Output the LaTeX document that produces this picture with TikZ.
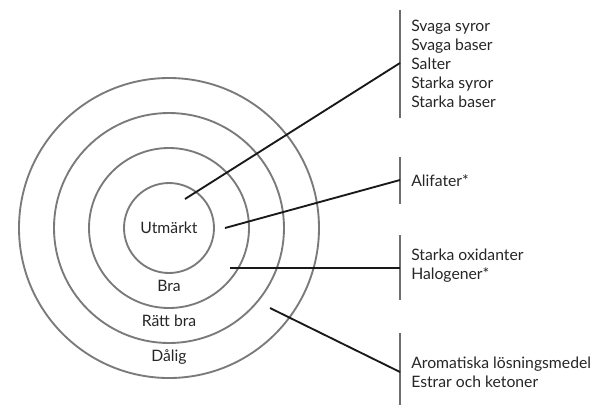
\documentclass[tikz,border=0pt]{standalone}
\usepackage{fontspec}
\setmainfont{Lato}
\usetikzlibrary{positioning}
\definecolor{ringgray}{HTML}{7A7A7A}
\definecolor{bargray}{HTML}{6E6E6E}
\tikzset{
  ringline/.style={draw=ringgray, line width=1.4pt},
  barline/.style={draw=bargray, line width=1.7pt},
  pointerline/.style={draw=black!90, line width=1.4pt},
  ringlabel/.style={font=\fontsize{11.8}{13}\selectfont, text=black!85, inner sep=0pt},
  listlabel/.style={font=\fontsize{11.8}{14.25}\selectfont, text=black!85, align=left,
    anchor=west, inner sep=0pt},
}
\begin{document}
\begin{tikzpicture}[x=0.75pt,y=-0.75pt]
  \useasboundingbox (0,0) rectangle (597,405);
  % ringar
  \coordinate (mid) at (169,228);
  \foreach \r in {45,80,115,150} {
    \draw[ringline] (mid) circle[radius=\r];
  }
  \node[ringlabel] (utm) at (169,228) {Utmärkt};
  \node[ringlabel] (bra) at (169,286) {Bra};
  \node[ringlabel] (ratt) at (169,321) {Rätt bra};
  \node[ringlabel] (dal) at (169,357) {Dålig};
  % staplar
  \foreach \n/\top/\bot in {1/10/118,2/157/204,3/235/300,4/333/405} {
    \draw[barline] (400,\top) coordinate (bar\n t) -- (400,\bot) coordinate (bar\n b);
  }
  \node[listlabel] (lst1) at (411,64) {Svaga syror\\Svaga baser\\Salter\\Starka syror\\Starka baser};
  \node[listlabel] (lst2) at (411,181) {Alifater*};
  \node[listlabel] (lst3) at (411,266) {Starka oxidanter\\Halogener*};
  \node[listlabel] (lst4) at (411,372) {Aromatiska lösningsmedel\\Estrar och ketoner};
  % pekare
  \coordinate (p1) at (185,199);
  \coordinate (p2) at (225,228);
  \coordinate (p3) at (230,268);
  \coordinate (p4) at (270,308);
  \coordinate (k1) at (400,63);
  \coordinate (k2) at (400,180);
  \coordinate (k3) at (400,268);
  \coordinate (k4) at (400,372);
  \foreach \i in {1,...,4} {
    \draw[pointerline] (p\i) -- (k\i);
  }
\end{tikzpicture}
\end{document}
